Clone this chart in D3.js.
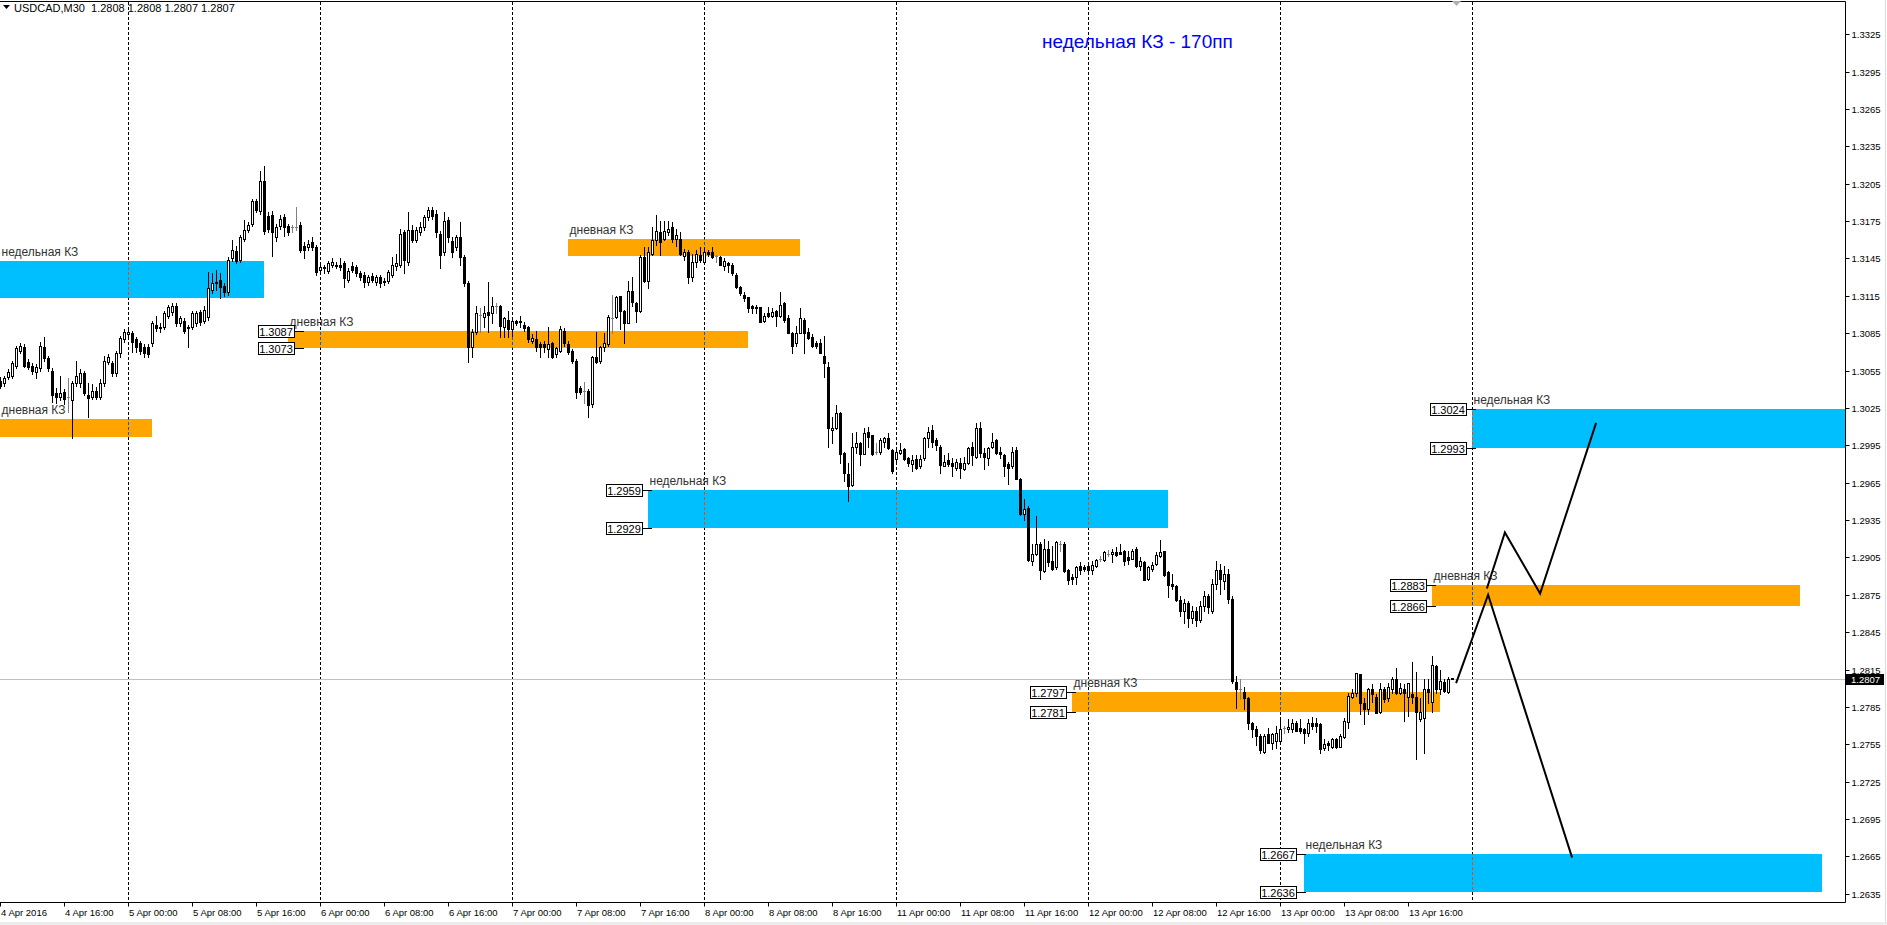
<!DOCTYPE html>
<html><head><meta charset="utf-8">
<script src="https://cdn.jsdelivr.net/npm/d3@7"></script>
<style>
html,body{margin:0;padding:0;background:#fff;overflow:hidden}
svg{display:block}
text{font-family:"Liberation Sans",Arial,sans-serif}
</style></head><body>
<svg id="chart" width="1887" height="925"></svg>
<script>
// USDCAD, 30-minute bars. Each bar: [open, high, low, close]
const symbol = "USDCAD,M30";

const apr04 = [ // from 08:00
[1.3047,1.3050,1.3041,1.3043],[1.3045,1.3051,1.3043,1.3049],[1.3050,1.3056,1.3048,1.3054],[1.3051,1.3063,1.3049,1.3061],
[1.3059,1.3075,1.3057,1.3073],[1.3071,1.3077,1.3069,1.3075],[1.3074,1.3076,1.3058,1.3059],[1.3062,1.3064,1.3056,1.3058],
[1.3059,1.3061,1.3052,1.3055],[1.3054,1.3060,1.3049,1.3058],[1.3057,1.3078,1.3055,1.3075],[1.3074,1.3082,1.3063,1.3065],
[1.3065,1.3067,1.3055,1.3057],[1.3055,1.3057,1.3030,1.3035],[1.3037,1.3041,1.3029,1.3034],[1.3034,1.3051,1.3031,1.3037],
[1.3038,1.3040,1.3028,1.3032],[1.3034,1.3049,1.3022,1.3034],[1.3031,1.3047,1.3001,1.3045],[1.3045,1.3063,1.3043,1.3051],
[1.3045,1.3056,1.3042,1.3053],[1.3053,1.3055,1.3035,1.3037],[1.3035,1.3045,1.3018,1.3033],[1.3034,1.3044,1.3032,1.3039],
[1.3039,1.3042,1.3032,1.3034],[1.3034,1.3048,1.3032,1.3045],[1.3045,1.3067,1.3043,1.3063],[1.3062,1.3068,1.3060,1.3066],
[1.3061,1.3063,1.3051,1.3053],[1.3053,1.3071,1.3051,1.3069],[1.3069,1.3083,1.3066,1.3081],[1.3080,1.3088,1.3078,1.3086]];

const apr05 = [
[1.3084,1.3088,1.3082,1.3086],[1.3085,1.3087,1.3070,1.3078],[1.3080,1.3082,1.3070,1.3074],[1.3077,1.3079,1.3068,1.3071],
[1.3074,1.3076,1.3066,1.3069],[1.3074,1.3076,1.3066,1.3068],[1.3077,1.3095,1.3075,1.3093],[1.3092,1.3099,1.3087,1.3089],
[1.3089,1.3093,1.3086,1.3090],[1.3090,1.3103,1.3088,1.3101],[1.3099,1.3108,1.3097,1.3106],[1.3102,1.3109,1.3100,1.3107],
[1.3107,1.3109,1.3091,1.3093],[1.3093,1.3099,1.3091,1.3097],[1.3095,1.3097,1.3085,1.3087],[1.3089,1.3092,1.3074,1.3090],
[1.3090,1.3103,1.3088,1.3101],[1.3093,1.3103,1.3091,1.3101],[1.3102,1.3104,1.3092,1.3094],[1.3095,1.3107,1.3093,1.3104],
[1.3098,1.3134,1.3096,1.3121],[1.3120,1.3133,1.3117,1.3125],[1.3126,1.3136,1.3120,1.3125],[1.3128,1.3133,1.3113,1.3122],
[1.3123,1.3125,1.3115,1.3118],[1.3118,1.3146,1.3116,1.3144],[1.3145,1.3160,1.3143,1.3152],[1.3151,1.3155,1.3141,1.3143],
[1.3144,1.3164,1.3142,1.3162],[1.3161,1.3176,1.3159,1.3168],[1.3168,1.3174,1.3166,1.3172],[1.3173,1.3193,1.3171,1.3191],
[1.3191,1.3193,1.3182,1.3184],[1.3183,1.3215,1.3181,1.3207],[1.3207,1.3219,1.3165,1.3167],[1.3179,1.3182,1.3166,1.3169],
[1.3180,1.3183,1.3147,1.3166],[1.3162,1.3173,1.3159,1.3170],[1.3171,1.3180,1.3169,1.3177],[1.3178,1.3181,1.3163,1.3170],
[1.3171,1.3173,1.3164,1.3166],[1.3170,1.3172,1.3166,1.3170],[1.3170,1.3186,1.3168,1.3170],[1.3172,1.3174,1.3150,1.3152],
[1.3155,1.3158,1.3145,1.3152],[1.3154,1.3160,1.3152,1.3157],[1.3158,1.3162,1.3152,1.3154],[1.3154,1.3156,1.3132,1.3134]];

const apr06 = [
[1.3136,1.3140,1.3134,1.3138],[1.3137,1.3140,1.3133,1.3138],[1.3135,1.3143,1.3133,1.3141],[1.3140,1.3145,1.3138,1.3142],
[1.3139,1.3142,1.3137,1.3140],[1.3140,1.3145,1.3136,1.3138],[1.3141,1.3143,1.3122,1.3129],[1.3128,1.3137,1.3126,1.3135],
[1.3139,1.3142,1.3134,1.3136],[1.3138,1.3140,1.3131,1.3133],[1.3133,1.3135,1.3128,1.3130],[1.3132,1.3134,1.3122,1.3126],
[1.3126,1.3132,1.3124,1.3130],[1.3131,1.3133,1.3126,1.3128],[1.3126,1.3132,1.3124,1.3130],[1.3130,1.3132,1.3122,1.3125],
[1.3127,1.3129,1.3124,1.3126],[1.3127,1.3136,1.3125,1.3134],[1.3132,1.3146,1.3130,1.3140],[1.3139,1.3149,1.3136,1.3141],
[1.3140,1.3169,1.3138,1.3165],[1.3166,1.3168,1.3133,1.3144],[1.3142,1.3182,1.3140,1.3168],[1.3168,1.3172,1.3158,1.3160],
[1.3160,1.3170,1.3158,1.3168],[1.3166,1.3174,1.3164,1.3170],[1.3170,1.3180,1.3168,1.3178],[1.3178,1.3186,1.3176,1.3184],
[1.3184,1.3186,1.3177,1.3179],[1.3181,1.3184,1.3162,1.3166],[1.3165,1.3167,1.3137,1.3148],[1.3150,1.3182,1.3148,1.3175],
[1.3176,1.3178,1.3158,1.3162],[1.3159,1.3162,1.3146,1.3150],[1.3154,1.3164,1.3152,1.3162],[1.3162,1.3174,1.3140,1.3146],
[1.3146,1.3148,1.3123,1.3125],[1.3125,1.3127,1.3062,1.3074],[1.3074,1.3088,1.3066,1.3086],[1.3086,1.3107,1.3084,1.3101],
[1.3100,1.3105,1.3086,1.3100],[1.3098,1.3107,1.3090,1.3101],[1.3102,1.3126,1.3086,1.3100],[1.3101,1.3114,1.3093,1.3107],
[1.3107,1.3109,1.3101,1.3107],[1.3107,1.3108,1.3082,1.3091],[1.3090,1.3098,1.3082,1.3097],[1.3096,1.3103,1.3082,1.3088]];

const apr07 = [
[1.3088,1.3097,1.3083,1.3095],[1.3095,1.3096,1.3092,1.3093],[1.3094,1.3099,1.3090,1.3095],[1.3092,1.3094,1.3087,1.3089],
[1.3090,1.3091,1.3078,1.3080],[1.3079,1.3084,1.3077,1.3081],[1.3080,1.3087,1.3071,1.3074],[1.3076,1.3078,1.3066,1.3074],
[1.3076,1.3079,1.3070,1.3074],[1.3072,1.3090,1.3066,1.3076],[1.3077,1.3078,1.3065,1.3066],[1.3068,1.3074,1.3066,1.3073],
[1.3071,1.3091,1.3070,1.3088],[1.3087,1.3089,1.3075,1.3077],[1.3076,1.3079,1.3068,1.3070],[1.3071,1.3072,1.3061,1.3063],
[1.3063,1.3064,1.3033,1.3038],[1.3041,1.3043,1.3036,1.3038],[1.3039,1.3046,1.3029,1.3039],[1.3039,1.3040,1.3018,1.3027],
[1.3028,1.3067,1.3026,1.3066],[1.3066,1.3086,1.3061,1.3062],[1.3063,1.3075,1.3061,1.3074],[1.3074,1.3085,1.3071,1.3077],
[1.3076,1.3100,1.3075,1.3098],[1.3097,1.3116,1.3085,1.3097],[1.3098,1.3115,1.3097,1.3114],[1.3115,1.3115,1.3088,1.3103],
[1.3103,1.3104,1.3077,1.3093],[1.3093,1.3127,1.3093,1.3119],[1.3119,1.3130,1.3107,1.3110],[1.3109,1.3110,1.3094,1.3103],
[1.3103,1.3148,1.3102,1.3146],[1.3146,1.3154,1.3126,1.3127],[1.3127,1.3154,1.3121,1.3150],[1.3149,1.3170,1.3148,1.3160],
[1.3160,1.3180,1.3156,1.3167],[1.3166,1.3175,1.3148,1.3158],[1.3161,1.3175,1.3160,1.3167],[1.3166,1.3175,1.3164,1.3169],
[1.3170,1.3174,1.3158,1.3161],[1.3161,1.3169,1.3155,1.3164],[1.3161,1.3166,1.3148,1.3149],[1.3147,1.3153,1.3144,1.3150],
[1.3150,1.3152,1.3125,1.3130],[1.3130,1.3149,1.3127,1.3142],[1.3142,1.3152,1.3138,1.3149],[1.3148,1.3154,1.3142,1.3144]];

const apr08 = [
[1.3142,1.3154,1.3141,1.3150],[1.3150,1.3152,1.3147,1.3149],[1.3150,1.3154,1.3145,1.3146],[1.3147,1.3148,1.3142,1.3147],
[1.3146,1.3147,1.3140,1.3140],[1.3139,1.3145,1.3136,1.3143],[1.3141,1.3142,1.3134,1.3140],[1.3140,1.3141,1.3132,1.3133],
[1.3132,1.3133,1.3121,1.3122],[1.3122,1.3123,1.3116,1.3117],[1.3116,1.3118,1.3111,1.3113],[1.3114,1.3114,1.3102,1.3105],
[1.3107,1.3108,1.3101,1.3105],[1.3106,1.3108,1.3101,1.3105],[1.3106,1.3106,1.3094,1.3094],[1.3095,1.3101,1.3094,1.3099],
[1.3101,1.3106,1.3098,1.3099],[1.3099,1.3105,1.3098,1.3102],[1.3103,1.3104,1.3091,1.3099],[1.3099,1.3118,1.3098,1.3108],
[1.3109,1.3110,1.3094,1.3096],[1.3097,1.3100,1.3085,1.3085],[1.3085,1.3086,1.3069,1.3075],[1.3077,1.3091,1.3075,1.3085],
[1.3085,1.3105,1.3085,1.3097],[1.3096,1.3097,1.3069,1.3085],[1.3086,1.3089,1.3080,1.3081],[1.3082,1.3084,1.3074,1.3075],
[1.3077,1.3079,1.3073,1.3075],[1.3077,1.3080,1.3069,1.3069],[1.3067,1.3083,1.3050,1.3061],[1.3058,1.3062,1.2994,1.3009],
[1.3007,1.3018,1.2997,1.3009],[1.3009,1.3027,1.3008,1.3021],[1.3021,1.3022,1.2981,1.2988],[1.2989,1.2990,1.2966,1.2973],
[1.2972,1.2981,1.2950,1.2962],[1.2963,1.3005,1.2962,1.2994],[1.2994,1.3006,1.2989,1.2997],[1.2997,1.2998,1.2979,1.2988],
[1.2988,1.3009,1.2988,1.3005],[1.3006,1.3010,1.2994,1.3002],[1.3003,1.3003,1.2987,1.2988],[1.2990,1.2997,1.2988,1.2990],
[1.2990,1.3001,1.2988,1.2999],[1.2998,1.3002,1.2994,1.3001],[1.3001,1.3005,1.2992,1.2993],[1.2991,1.2992,1.2973,1.2974]];

const apr11 = [
[1.2984,1.2992,1.2982,1.2990],[1.2989,1.2997,1.2988,1.2991],[1.2992,1.2993,1.2983,1.2984],[1.2985,1.2986,1.2978,1.2981],
[1.2980,1.2987,1.2974,1.2983],[1.2984,1.2987,1.2976,1.2977],[1.2978,1.2987,1.2977,1.2984],[1.2985,1.3002,1.2983,1.3001],
[1.3001,1.3010,1.2994,1.3006],[1.3007,1.3011,1.2994,1.2998],[1.2999,1.3001,1.2991,1.2995],[1.2994,1.2995,1.2973,1.2979],
[1.2978,1.2987,1.2978,1.2982],[1.2983,1.2989,1.2978,1.2980],[1.2981,1.2985,1.2970,1.2978],[1.2977,1.2984,1.2975,1.2982],
[1.2981,1.2985,1.2969,1.2977],[1.2976,1.2986,1.2975,1.2981],[1.2981,1.2994,1.2980,1.2993],[1.2994,1.2998,1.2979,1.2987],
[1.2986,1.3013,1.2985,1.3009],[1.3009,1.3014,1.2986,1.2989],[1.2989,1.2993,1.2976,1.2986],[1.2985,1.2994,1.2979,1.2993],
[1.2994,1.3005,1.2993,1.2998],[1.2999,1.3000,1.2988,1.2989],[1.2990,1.2994,1.2985,1.2988],[1.2987,1.2988,1.2970,1.2978],
[1.2980,1.2982,1.2964,1.2977],[1.2978,1.2994,1.2977,1.2990],[1.2991,1.2994,1.2968,1.2968],[1.2968,1.2969,1.2939,1.2940],
[1.2940,1.2952,1.2935,1.2944],[1.2945,1.2946,1.2902,1.2903],[1.2902,1.2916,1.2899,1.2908],[1.2908,1.2938,1.2907,1.2916],
[1.2916,1.2917,1.2888,1.2895],[1.2894,1.2920,1.2893,1.2912],[1.2912,1.2918,1.2898,1.2901],[1.2902,1.2914,1.2895,1.2896],
[1.2897,1.2918,1.2896,1.2917],[1.2916,1.2918,1.2910,1.2916],[1.2916,1.2917,1.2893,1.2894],[1.2895,1.2896,1.2884,1.2887],
[1.2889,1.2892,1.2884,1.2888],[1.2889,1.2898,1.2884,1.2897],[1.2898,1.2901,1.2892,1.2895],[1.2897,1.2899,1.2894,1.2896]];

const apr12 = [
[1.2898,1.2901,1.2893,1.2895],[1.2895,1.2902,1.2892,1.2899],[1.2898,1.2904,1.2897,1.2903],[1.2904,1.2906,1.2902,1.2904],
[1.2903,1.2910,1.2902,1.2909],[1.2908,1.2911,1.2906,1.2908],[1.2908,1.2912,1.2901,1.2909],[1.2909,1.2913,1.2906,1.2907],
[1.2909,1.2916,1.2908,1.2908],[1.2910,1.2911,1.2899,1.2902],[1.2905,1.2910,1.2900,1.2903],[1.2904,1.2912,1.2904,1.2910],
[1.2912,1.2913,1.2897,1.2898],[1.2898,1.2905,1.2895,1.2902],[1.2901,1.2902,1.2887,1.2887],[1.2888,1.2898,1.2887,1.2897],
[1.2896,1.2901,1.2894,1.2899],[1.2900,1.2909,1.2899,1.2907],[1.2906,1.2919,1.2905,1.2909],[1.2910,1.2910,1.2890,1.2891],
[1.2893,1.2894,1.2873,1.2883],[1.2884,1.2892,1.2880,1.2882],[1.2882,1.2883,1.2870,1.2871],[1.2871,1.2874,1.2858,1.2862],
[1.2862,1.2872,1.2852,1.2868],[1.2868,1.2870,1.2849,1.2856],[1.2856,1.2866,1.2852,1.2862],[1.2862,1.2865,1.2850,1.2855],
[1.2855,1.2870,1.2853,1.2866],[1.2866,1.2878,1.2862,1.2874],[1.2874,1.2876,1.2860,1.2865],[1.2862,1.2888,1.2860,1.2884],
[1.2884,1.2902,1.2880,1.2895],[1.2895,1.2900,1.2876,1.2888],[1.2886,1.2898,1.2880,1.2892],[1.2892,1.2896,1.2868,1.2872],
[1.2872,1.2874,1.2804,1.2806],[1.2805,1.2810,1.2784,1.2799],[1.2799,1.2807,1.2791,1.2799],[1.2797,1.2801,1.2783,1.2792],
[1.2792,1.2793,1.2767,1.2772],[1.2772,1.2773,1.2761,1.2767],[1.2767,1.2770,1.2754,1.2762],[1.2762,1.2763,1.2748,1.2750],
[1.2749,1.2763,1.2748,1.2762],[1.2763,1.2768,1.2756,1.2756],[1.2756,1.2764,1.2751,1.2763],[1.2758,1.2770,1.2752,1.2764]];

const apr13 = [ // up to 21:30
[1.2758,1.2775,1.2757,1.2767],[1.2768,1.2770,1.2764,1.2768],[1.2767,1.2775,1.2765,1.2769],[1.2767,1.2775,1.2765,1.2772],
[1.2772,1.2774,1.2766,1.2766],[1.2768,1.2775,1.2764,1.2766],[1.2767,1.2768,1.2756,1.2764],[1.2764,1.2775,1.2762,1.2772],
[1.2772,1.2777,1.2767,1.2770],[1.2772,1.2776,1.2765,1.2770],[1.2771,1.2772,1.2748,1.2751],[1.2752,1.2759,1.2750,1.2755],
[1.2756,1.2758,1.2750,1.2754],[1.2753,1.2760,1.2752,1.2759],[1.2759,1.2760,1.2752,1.2753],[1.2753,1.2763,1.2753,1.2762],
[1.2761,1.2776,1.2760,1.2774],[1.2773,1.2796,1.2768,1.2794],[1.2793,1.2799,1.2792,1.2796],[1.2796,1.2812,1.2794,1.2812],
[1.2811,1.2811,1.2779,1.2788],[1.2788,1.2792,1.2771,1.2783],[1.2783,1.2800,1.2779,1.2799],[1.2799,1.2803,1.2789,1.2795],
[1.2793,1.2795,1.2780,1.2780],[1.2781,1.2804,1.2780,1.2799],[1.2799,1.2801,1.2789,1.2791],[1.2792,1.2804,1.2790,1.2801],
[1.2799,1.2809,1.2796,1.2807],[1.2807,1.2816,1.2795,1.2796],[1.2796,1.2804,1.2795,1.2800],[1.2799,1.2803,1.2774,1.2796],
[1.2793,1.2804,1.2778,1.2804],[1.2795,1.2821,1.2788,1.2793],[1.2793,1.2813,1.2743,1.2781],[1.2775,1.2792,1.2774,1.2781],
[1.2776,1.2807,1.2748,1.2799],[1.2799,1.2807,1.2788,1.2797],[1.2789,1.2826,1.2781,1.2819],[1.2818,1.2819,1.2796,1.2799],
[1.2799,1.2815,1.2795,1.2806],[1.2805,1.2807,1.2797,1.2798],[1.2797,1.2809,1.2796,1.2807],[1.2808,1.2808,1.2807,1.2807]];

const sessions = [
  {open: "2016-04-04 08:00", bars: apr04},
  {open: "2016-04-05 00:00", bars: apr05},
  {open: "2016-04-06 00:00", bars: apr06},
  {open: "2016-04-07 00:00", bars: apr07},
  {open: "2016-04-08 00:00", bars: apr08},
  {open: "2016-04-11 00:00", bars: apr11},
  {open: "2016-04-12 00:00", bars: apr12},
  {open: "2016-04-13 00:00", bars: apr13}
];

// price axis labels
const priceTicks = [1.2635,1.2665,1.2695,1.2725,1.2755,1.2785,1.2815,1.2845,1.2875,1.2905,1.2935,1.2965,
                    1.2995,1.3025,1.3055,1.3085,1.3115,1.3145,1.3175,1.3205,1.3235,1.3265,1.3295,1.3325];

// supply/demand zones: weekly / daily, price bounds, start and end in bar numbers,
// and the bar where the price tags are anchored (null = no tags)
const zoneNames = {weekly: "недельная КЗ", daily: "дневная КЗ"};
const zoneKind = ["weekly","daily","daily","daily","weekly","daily","daily","weekly","weekly"];
const zoneHigh = [1.3143, 1.3016, 1.3087, 1.3161, 1.2959, 1.2797, 1.2883, 1.3024, 1.2667];
const zoneLow  = [1.3113, 1.3002, 1.3073, 1.3147, 1.2929, 1.2781, 1.2866, 1.2993, 1.2636];
const zoneFrom = [-4, -4, 72, 142, 162, 268, 358, 368, 326];
const zoneTo   = [66, 38, 187, 200, 292, 360, 450, 470, 455.5];
const zoneTagAt = [null, null, 73.5, null, 160.6, 266.6, 356.4, 366.6, 323.9];

// projected paths: [bar number, price]
const pathDown = [[363.9,1.2804],[371.9,1.2875],[392.9,1.2664]];
const pathUp   = [[371.6,1.2880],[376.1,1.2925],[384.9,1.2876],[398.9,1.3013]];

const headline = "недельная КЗ - 170пп";

// ---------------------------------------------------------------
const parse = d3.timeParse("%Y-%m-%d %H:%M");
const bars = [];
sessions.forEach(s => {
  const t0 = parse(s.open);
  s.bars.forEach((b, k) => bars.push({i: bars.length, t: d3.timeMinute.offset(t0, 30 * k),
    o: b[0], h: b[1], l: b[2], c: b[3]}));
});
const last = bars[bars.length - 1];

const svg = d3.select("#chart");
const PL = 0, PT = 2, PR = 1845, PB = 902;
const x = d3.scaleLinear().domain([0, 461]).range([0.5, 1844.5]);
const y = d3.scaleLinear().domain([1.2635, 1.3325]).range([893.7, 34.3]);
const px = i => Math.round(x(i) - 0.5);      // pixel column of a bar
const py = p => Math.round(y(p));

const colors = {weekly: "#00BFFF", daily: "#FFA500"};
const inverse = {weekly: "#FF4000", daily: "#005AFF"};

const defs = svg.append("defs");
defs.append("clipPath").attr("id", "plotClip")
  .append("rect").attr("x", PL).attr("y", PT).attr("width", PR - PL).attr("height", PB - PT);

// window chrome
svg.append("rect").attr("x", 0).attr("y", 922).attr("width", 1887).attr("height", 3).attr("fill", "#ececec");
svg.append("line").attr("x1", 1885.5).attr("x2", 1885.5).attr("y1", 0).attr("y2", 922).attr("stroke", "#dcdcdc");

const plot = svg.append("g").attr("clip-path", "url(#plotClip)");

// zones
const zones = zoneKind.map((k, j) => ({kind: k, hi: zoneHigh[j], lo: zoneLow[j], from: zoneFrom[j], to: zoneTo[j], tagAt: zoneTagAt[j]}));
zones.forEach(z => {
  z.x0 = px(z.from); z.x1 = px(z.to); z.y0 = py(z.hi); z.y1 = py(z.lo);
  plot.append("rect").attr("x", z.x0).attr("y", z.y0).attr("width", z.x1 - z.x0).attr("height", z.y1 - z.y0)
    .attr("fill", colors[z.kind]);
});

// day separators
const dayStarts = bars.filter(b => b.t.getHours() === 0 && b.t.getMinutes() === 0).map(b => b.i);
dayStarts.push(last.i + (1440 - (last.t.getHours() * 60 + last.t.getMinutes())) / 30);
plot.selectAll("line.sep").data(dayStarts).join("line").attr("class", "sep")
  .attr("x1", d => px(d) + 0.5).attr("x2", d => px(d) + 0.5).attr("y1", PT).attr("y2", PB)
  .attr("stroke", "#000").attr("stroke-dasharray", "3,2");
zones.forEach((z, j) => {
  defs.append("clipPath").attr("id", "zc" + j).append("rect")
    .attr("x", z.x0).attr("y", z.y0).attr("width", z.x1 - z.x0).attr("height", z.y1 - z.y0);
  plot.append("g").attr("clip-path", `url(#zc${j})`).selectAll("line").data(dayStarts).join("line")
    .attr("x1", d => px(d) + 0.5).attr("x2", d => px(d) + 0.5).attr("y1", PT).attr("y2", PB)
    .attr("stroke", inverse[z.kind]).attr("stroke-dasharray", "3,2");
});

// last price line
plot.append("line").attr("x1", PL).attr("x2", PR).attr("y1", py(last.c) + 0.5).attr("y2", py(last.c) + 0.5)
  .attr("stroke", "#c0c0c0");

// candles
const cg = plot.append("g");
bars.forEach(b => {
  const cx = px(b.i);
  const doji = b.o === b.c;
  const col = doji ? "#808080" : "#000";
  cg.append("line").attr("x1", cx + 0.5).attr("x2", cx + 0.5).attr("y1", py(b.h)).attr("y2", py(b.l) + 1)
    .attr("stroke", col);
  const top = py(Math.max(b.o, b.c)), bot = py(Math.min(b.o, b.c));
  if (doji) {
    cg.append("rect").attr("x", cx - 1).attr("y", top).attr("width", 3).attr("height", 1).attr("fill", col);
  } else if (b.c > b.o) {
    cg.append("rect").attr("x", cx - 0.5).attr("y", top + 0.5).attr("width", 2).attr("height", Math.max(bot - top, 1))
      .attr("fill", "#fff").attr("stroke", "#000");
  } else {
    cg.append("rect").attr("x", cx - 1).attr("y", top).attr("width", 3).attr("height", Math.max(bot - top + 1, 2))
      .attr("fill", "#000");
  }
});

// zone captions and price tags
const fmt = d3.format(".4f");
zones.forEach(z => {
  plot.append("text").attr("x", Math.max(z.x0, 0) + 1.5).attr("y", z.y0 - 5)
    .attr("font-size", 12).attr("fill", "#333").text(zoneNames[z.kind]);
  if (z.tagAt === null) return;
  [[z.hi, z.y0], [z.lo, z.y1]].forEach(([p, yy]) => {
    const bx = px(z.tagAt);
    plot.append("line").attr("x1", bx).attr("x2", bx + 10).attr("y1", yy + 0.5).attr("y2", yy + 0.5).attr("stroke", "#000");
    plot.append("rect").attr("x", bx - 36 + 0.5).attr("y", yy - 6 + 0.5).attr("width", 36).attr("height", 12)
      .attr("fill", "#fff").attr("stroke", "#000");
    plot.append("text").attr("x", bx - 18).attr("y", yy + 4.5).attr("text-anchor", "middle")
      .attr("font-size", 11).attr("fill", "#000").text(fmt(p));
  });
});

// projected paths
const line = d3.line().x(d => x(d[0])).y(d => y(d[1]));
[pathDown, pathUp].forEach(p => plot.append("path").attr("d", line(p)).attr("fill", "none")
  .attr("stroke", "#000").attr("stroke-width", 2));

// headline
svg.append("text").attr("x", 1042).attr("y", 48).attr("font-size", 19).attr("fill", "#0000ff").text(headline);

// frame
svg.append("path").attr("d", `M0,${PT - 0.5}H${PR + 0.5}V${PB + 0.5}H0`).attr("fill", "none").attr("stroke", "#000");

// price axis
const ya = svg.append("g").attr("transform", `translate(${PR + 0.5},0)`)
  .call(d3.axisRight(y).tickValues(priceTicks).tickSize(4).tickPadding(2).tickFormat(fmt));
ya.select(".domain").remove();
ya.selectAll("text").attr("font-size", 9.5).attr("fill", "#000").style("font-family", '"Liberation Sans",Arial,sans-serif');
ya.selectAll("line").attr("stroke", "#000");
ya.selectAll(".tick").attr("transform", d => `translate(0,${py(d) + 0.5})`);

// last price marker
svg.append("rect").attr("x", 1846).attr("y", py(last.c) - 5).attr("width", 38).attr("height", 11).attr("fill", "#000");
svg.append("text").attr("x", 1851).attr("y", py(last.c) + 4).attr("font-size", 9.5).attr("fill", "#fff").text(fmt(last.c));

// time axis
const timeTicks = bars.filter(b => b.t.getMinutes() === 0 && b.t.getHours() % 8 === 0).map(b => b.i);
const fDate = d3.timeFormat("%-d %b %Y"), fTime = d3.timeFormat("%-d %b %H:%M");
const xa = svg.append("g").attr("transform", `translate(0,${PB + 0.5})`)
  .call(d3.axisBottom(x).tickValues(timeTicks).tickSize(4).tickPadding(3)
    .tickFormat(i => i === 0 ? fDate(bars[i].t) : fTime(bars[i].t)));
xa.select(".domain").remove();
xa.selectAll(".tick").attr("transform", d => `translate(${px(d) + 0.5},0)`);
xa.selectAll("line").attr("stroke", "#000");
xa.selectAll("text").attr("text-anchor", "start").attr("x", 0.5).attr("font-size", 9.5).attr("fill", "#000")
  .style("font-family", '"Liberation Sans",Arial,sans-serif');

// chart shift marker
svg.append("path").attr("d", "M1452,1H1461L1456.5,6Z").attr("fill", "#b0b0b0");

// header
svg.append("path").attr("d", "M3,5H10L6.5,9Z").attr("fill", "#000");
svg.append("text").attr("x", 14).attr("y", 11.5).attr("font-size", 11).attr("fill", "#000").style("white-space", "pre")
  .text(`${symbol}  ${fmt(last.o)} ${fmt(last.h)} ${fmt(last.l)} ${fmt(last.c)}`);
</script>
</body></html>
